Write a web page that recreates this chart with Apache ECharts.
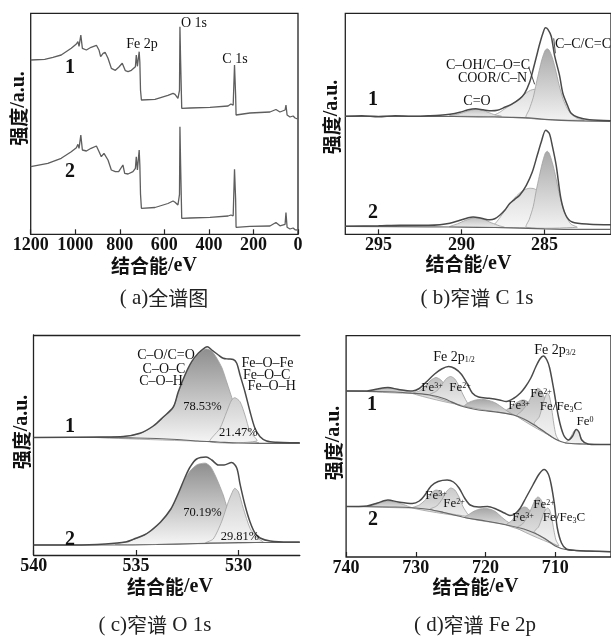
<!DOCTYPE html>
<html><head><meta charset="utf-8">
<script src="https://cdn.jsdelivr.net/npm/echarts@6/dist/echarts.min.js"></script>
<style>html,body{margin:0;padding:0;background:#fff}#c{width:611px;height:636px}</style>
</head><body><div id="c"></div>
<script>
// ---------- tick labels ----------
const ticksA = [0, 200, 400, 600, 800, 1000, 1200];
const ticksB = [285, 290, 295];
const ticksC = [530, 535, 540];
const ticksD = [710, 720, 730, 740];

// ---------- (a) survey spectra [binding energy eV, intensity a.u.] ----------
const surveyA1 = [[1200,174.3],[1137,175],[1100,177],[1063,179.3],[1018,186],[995,190.3],[988,192.6],[983,188],[975,199.3],[968,186],[950,184.3],[929,187],[905,189],[893,184],[886,177.6],[875,181],[866,182],[853,176],[838,166],[820,164],[805,167],[789,171],[783,172],[775,163.6],[763,162.6],[748,164],[730,167.6],[726,179.3],[721,168],[718,169],[713,182.6],[710,172],[707,144],[703,134.3],[696,134.3],[642,135],[584,139],[561,141],[552,140],[539,136],[532,144],[530,207.6],[527,174],[522,126],[484,126.3],[395,127],[314,128.3],[301,130.3],[291,129],[285,169.3],[280,139],[278,119.3],[216,121.3],[126,122.3],[99,124.8],[81,122.3],[58,124.3],[54,129.3],[49,119.3],[36,117.3],[22,118.3],[13,116.3],[2,115.3]];
const surveyA2 = [[1200,67.6],[1123,71],[1063,76],[1018,82.6],[995,86.6],[988,90],[983,86],[975,99.3],[968,84.3],[950,83.3],[929,86],[905,88.3],[893,82.6],[883,77.6],[871,81],[853,74.3],[838,64.3],[820,62.6],[805,62.6],[786,69.3],[778,61],[763,60.3],[741,62.6],[730,66],[726,77.6],[721,64.3],[713,84.3],[710,69.3],[707,40],[703,26],[696,26],[642,26.8],[584,30.8],[561,33.3],[552,32],[539,29.3],[532,40],[530,107.6],[527,70],[522,16],[484,16.3],[395,17],[314,18.3],[301,19.3],[291,18.5],[285,65],[280,35],[278,7],[216,8],[126,8.3],[99,11.8],[81,8.5],[58,10],[54,21.8],[49,7],[36,5.3],[22,6.3],[13,4.5],[2,4.3]];

// ---------- (b) C 1s ----------
const envB1 = [[297,118],[296,118.5],[295,117.5],[294,118.5],[293,118],[292,118.5],[291.3,119],[290.7,120],[290.1,122],[289.6,124.5],[289.15,125.5],[288.7,124.5],[288.2,123.5],[287.85,124],[287.4,127],[287.0,130],[286.5,135.5],[286.2,141],[285.9,152],[285.7,164],[285.5,177],[285.3,190],[285.1,201],[284.95,206.5],[284.8,205],[284.6,198],[284.4,179],[284.1,159],[283.9,141],[283.6,128],[283.4,121],[283.0,117],[282.3,114.5],[281,113.5]];
const bgB1 = [[297,118],[292,118],[289,117.5],[287,117],[286,116.5],[285,115],[284,114],[283,113.5],[281,113]];
const ccB1 = [[286.1,116.5],[285.92,125],[285.68,137],[285.5,151],[285.32,164],[285.14,176],[284.96,184],[284.84,185.5],[284.72,184],[284.54,177],[284.36,166],[284.12,149],[283.88,135],[283.64,126],[283.4,120.5],[283.04,116],[282.62,114]];
const cohB1 = [[288.3,118],[288.0,119.5],[287.7,122],[287.4,125.5],[287.0,129.5],[286.7,133],[286.4,137.5],[286.1,141.5],[285.85,144],[285.6,145],[285.3,143],[285.0,139],[284.7,133],[284.4,127],[284.1,121.5],[283.8,118],[283.5,115.5],[283.2,114]];
const coB1 = [[290.72,118.5],[290.24,120],[289.76,122.5],[289.45,124],[289.1,125],[288.75,124],[288.4,122],[288.0,119.5],[287.6,118]];
const envB2 = [[297,8],[295,8.5],[293.7,9],[292,9],[291.3,9.5],[290.7,11],[290.1,14],[289.6,16.5],[289.3,17.3],[288.8,16],[288.3,14.5],[288.0,15.5],[287.7,19],[287.4,24],[287.1,30.7],[286.8,35],[286.5,39],[286.1,49],[285.74,62.3],[285.44,79],[285.2,92.3],[284.93,104],[284.72,101],[284.54,89],[284.3,69],[284.02,36],[283.72,19],[283.34,12.3],[282.3,10],[281,9.5]];
const bgB2 = [[297,8],[292,7.5],[289,7],[287,6.5],[285,5.5],[283,5],[281,5]];
const ccB2 = [[286.1,7],[285.92,15],[285.68,28],[285.5,44],[285.32,58],[285.14,71],[284.96,81],[284.84,83],[284.72,81],[284.54,72],[284.36,60],[284.12,41],[283.88,26],[283.64,16],[283.4,10],[283.04,7]];
const cohB2 = [[288.32,7],[288.02,10],[287.72,16],[287.42,23],[287.12,30],[286.82,36],[286.52,41],[286.22,44.5],[285.92,46],[285.62,45.5],[285.32,42],[285.02,36],[284.72,29],[284.42,22],[284.12,16],[283.82,11.5],[283.52,8.5],[283.22,7]];
const coB2 = [[290.72,7.5],[290.24,10.5],[289.76,14],[289.22,16.5],[288.68,15],[288.2,11.5],[287.72,8.5],[287.42,7]];

// ---------- (c) O 1s ----------
const envC1 = [[540,117.5],[536.76,118],[535.62,118.5],[534.81,121.7],[534.16,129],[533.67,138],[533.18,148],[532.94,163],[532.61,180],[532.28,193.3],[531.96,201.7],[531.63,207.3],[531.52,208.3],[531.3,205],[530.98,200],[530.74,196.7],[530.49,196],[530.25,195.5],[530.08,191.7],[529.92,180],[529.68,163.3],[529.43,143.3],[529.19,126.7],[528.94,118.3],[528.62,114],[528.13,112.7],[527.48,112.3],[527,112.3]];
const bgC1 = [[540,117.5],[536.8,117.5],[535,117],[534,116.5],[533,115.5],[532,114],[531,113],[530,112],[529,111.7],[527,111.7]];
const coC1 = [[537,117.5],[536,118],[535.6,118.5],[534.8,121.5],[534.16,128.5],[533.67,137.5],[533.18,147.5],[532.94,162],[532.61,179],[532.28,192],[531.96,200.5],[531.7,205],[531.55,206],[531.3,204],[531.06,197],[530.8,187],[530.57,173],[530.25,153],[529.92,133],[529.6,120],[529.27,114],[529,112]];
const feoC1 = [[531.38,113.3],[530.9,126.7],[530.57,143.3],[530.33,155],[530.17,157.3],[529.92,153.3],[529.68,140],[529.43,123.3],[529.1,114]];
const envC2 = [[540,10],[538,10],[536.5,11],[535.5,13],[535.1,16],[534.6,20],[534.3,24],[533.8,33],[533.3,46],[532.95,61],[532.6,78],[532.36,88],[532.04,96],[531.58,98],[531.3,95],[530.98,90],[530.7,90],[530.33,92.5],[530.08,87],[529.92,71],[529.68,50],[529.43,33],[529.19,22],[528.94,17],[528.45,14],[527.5,13],[527,13]];
const bgC2 = [[540,10],[536,10],[534,10.5],[532,11.5],[530,12.5],[528,12.5],[527,12.5]];
const coC2 = [[536,10.5],[535.1,15.5],[534.3,23.5],[533.8,32.5],[533.3,45.5],[532.95,60],[532.6,76],[532.36,84],[532.04,90],[531.8,91.5],[531.58,91.7],[531.35,88],[531.14,80],[530.95,71],[530.74,60],[530.55,47],[530.33,33],[530.1,24],[529.92,19],[529.6,14],[529.3,12.5]];
const feoC2 = [[531.6,12],[531.23,16],[530.82,33.3],[530.49,53.3],[530.25,65],[530.17,66.7],[530.0,63.3],[529.76,46.7],[529.43,26.7],[529.1,17.3],[528.8,13]];

// ---------- (d) Fe 2p ----------
const envD1 = [[740,166],[737,166],[735.5,168],[734,169.5],[732.5,167.5],[730.5,166],[729.5,168.5],[728.5,175],[727.3,183],[726.3,188],[725.3,190.5],[724.4,188.5],[723.5,183],[722.6,173],[721.9,164],[721,160],[719.5,158.7],[718,157],[717,155.5],[716,158.5],[715,164],[714.3,170],[713.5,179],[712.8,190],[712.2,198],[711.7,201],[711.2,197],[710.8,189],[710.2,167],[709.5,139],[708.8,122],[708.1,117],[707.5,121],[707,127.5],[706.6,125],[706.2,117],[705.3,113],[704,112.5],[702,112.5]];
const bgD1 = [[740,166],[733,165],[730,163.5],[728,162],[726,158.5],[723.5,151],[721,147],[718.5,145],[716,142],[714.5,138],[713,132],[711.5,125],[710,118],[708.5,114],[706,113],[702,112.5]];
const satD1a = [[737,165.5],[736,166.5],[735,168],[734,169],[733,168.5],[732,167],[731,165],[730.5,163.5]];
const fe3D1a = [[730.5,163.5],[729.5,166],[728.5,172],[727.8,177],[727.1,179.5],[726.4,177],[725.7,171],[725,164],[724.2,158],[723.5,152]];
const fe2D1a = [[728,162],[727,166],[726.2,173],[725.6,178.5],[725,180.5],[724.4,178],[723.8,171],[723.2,162],[722.5,153],[722,149]];
const satD1b = [[723,151],[722.4,154.5],[721.7,156.5],[721,157.5],[720.2,157.5],[719.5,156.5],[718.7,154.5],[718,151.5],[717.3,148],[716.6,145],[716,142.5]];
const fe3D1b = [[717,146.5],[716.3,150],[715.6,154],[715,156.5],[714.5,157],[714,155.5],[713.4,150],[712.8,142],[712.2,135],[711.6,128]];
const fe2D1b = [[715.5,141],[714.8,146],[714,153],[713.3,162],[712.8,167],[712.5,168.7],[712.1,167],[711.6,160],[711.1,148],[710.6,134],[710.1,122],[709.6,117]];
const fecD1 = [[713,133],[712.3,140],[711.8,152],[711.4,161],[711.1,164],[710.8,160],[710.5,148],[710.2,133],[709.9,122],[709.5,116]];
const fe0D1 = [[708.6,114],[708.2,116],[707.7,121],[707.3,126],[707,127.7],[706.7,126],[706.4,121],[706,115.5],[705.6,113]];
const envD2 = [[740,50.5],[737,51],[735.5,54],[734,57],[732.5,55],[730.5,53.5],[729.5,56],[728.7,62],[727.8,71],[726.8,75.5],[725.5,77],[724.6,75],[723.8,69],[723,59],[722.2,52],[721,50],[719.7,50.5],[718.5,48],[717.3,44],[716.5,41.5],[715.8,43],[715,49],[714.3,58],[713.2,72],[712.3,83],[711.6,87.5],[711,83],[710.6,73],[710.1,52],[709.7,29],[709.1,14],[708.4,8],[707,6.5],[705,6],[702,5.3]];
const bgD2 = [[740,50.5],[733,50],[730,49],[728,47.5],[726,44.5],[723,39.5],[720,36],[717,32],[714.5,28],[713,24],[711.5,18.5],[710,11],[708.5,7.5],[706,6],[702,5.3]];
const satD2a = [[737,50.5],[736,52],[735,54.5],[734,56],[733,55],[732,53],[731,50.5],[730.5,49]];
const fe3D2a = [[730.5,49],[729.5,52],[728.5,58],[727.8,64],[727.1,67],[726.4,65],[725.7,59],[725,52],[724.2,45.5],[723.5,41]];
const fe2D2a = [[728,47.5],[727,51],[726.2,58],[725.6,65.5],[725,69],[724.4,67],[723.8,60],[723.2,50],[722.5,42.5],[722,40]];
const satD2b = [[723,39.5],[722.3,43],[721.6,46],[720.8,48],[720,48.5],[719.2,47.5],[718.5,45],[717.7,40],[717,36],[716.3,33],[715.6,31]];
const fe3D2b = [[717,32],[716.3,36],[715.6,42],[715,47.5],[714.5,50],[714,49],[713.4,44],[712.8,37],[712.2,30],[711.6,24],[711,20]];
const fe2D2b = [[715.5,29],[714.7,33],[714,40],[713.4,49],[712.9,57],[712.5,60],[712.1,58],[711.6,51],[711.1,40],[710.6,27],[710.1,16],[709.6,11]];
const fecD2 = [[713,25],[712.4,30],[711.9,39],[711.5,46],[711.1,49],[710.8,47],[710.5,39],[710.2,27],[709.9,17],[709.5,11]];

// ---------- annotation leader lines (panel b) [eV, a.u.] ----------
const leaderB = [[[285.95,167],[285.6,150]], [[284.45,196],[284.35,181]]];

// ---------- layout ----------
const SERIF = '"Liberation Serif", "Times New Roman", serif';
const CJK = '"Noto Sans CJK SC", sans-serif';
const grids = [
  {left:30.7, top:13.3, width:267.3, height:221, show:true},
  {left:345.3, top:13.3, width:266.7, height:221, show:true},
  {left:33.7, top:335, width:266.1, height:220, show:false},
  {left:346.1, top:335.7, width:266.8, height:221.3, show:true}
];
const xr = [[0,1200,ticksA],[281,297,ticksB],[527,540,ticksC],[702,740,ticksD]];

const chart = echarts.init(document.getElementById('c'), null, {renderer:'canvas'});

function line(gi, data, color, width, z, smooth) {
  return {type:'line', xAxisIndex:gi, yAxisIndex:gi, data, symbol:'none', showSymbol:false,
    smooth: smooth === undefined ? 0.3 : smooth, lineStyle:{color, width}, z, silent:true};
}
function comp(gi, pts, top, bot) {
  return {type:'custom', xAxisIndex:gi, yAxisIndex:gi, data:pts, z:1, silent:true, clip:true,
    renderItem:function(params, api){
      if (params.dataIndex !== 0) return null;
      const p = pts.map(d => api.coord(d));
      return {type:'polygon', shape:{points:p, smooth:0.25},
        style:{fill:new echarts.graphic.LinearGradient(0,0,0,1,[{offset:0,color:top},{offset:1,color:bot}]),
          stroke:'#a0a0a0', lineWidth:0.8}};
    }};
}
function T(x, y, text, size, extra) {
  return Object.assign({type:'text', x, y, z:100, silent:true,
    style:Object.assign({text, fontFamily:SERIF, fontSize:size||14, fill:'#111',
      align:'center', verticalAlign:'middle', textAlign:'center', textVerticalAlign:'middle'}, extra||{})});
}
const supRich = {sup:{fontSize:8, fontFamily:SERIF, verticalAlign:'top', padding:[0,0,5,0]},
                 sub:{fontSize:8, fontFamily:SERIF, verticalAlign:'bottom', padding:[5,0,0,0]}};
function R(x, y, text, size) { return T(x, y, text, size||14, {rich:supRich}); }

const axisNameRich = {c:{fontFamily:CJK, fontWeight:'bold', fontSize:19, fill:'#111'},
                      l:{fontFamily:SERIF, fontWeight:'bold', fontSize:20, fill:'#111'}};
function xName(x, y) { return T(x, y, '{c|结合能}{l|/eV}', 19, {rich:axisNameRich}); }
function yName(x, y) { const t = T(x, y, '{c|强度}{l|/a.u.}', 19, {rich:axisNameRich}); t.rotation = Math.PI/2; return t; }
const capRich = {c:{fontFamily:CJK, fontSize:20, fill:'#222'}, l:{fontFamily:SERIF, fontSize:21, fill:'#222'}};
function cap(x, y, a, b, c) { return T(x, y, '{l|( ' + a + ')}{c|' + b + '}' + (c ? '{l| ' + c + '}' : ''), 20, {rich:capRich}); }

const xAxes = xr.map((r, i) => ({type:'value', gridIndex:i, min:r[0], max:r[1], inverse:true,
    axisLine:{show:i === 2, lineStyle:{color:'#222', width:1.3}}, splitLine:{show:false},
    axisTick:{show:true, inside:true, length:5, lineStyle:{color:'#222', width:1.2}, customValues:r[2]},
    axisLabel:{show:true, customValues:r[2], formatter:v => String(v), fontFamily:SERIF, fontSize:18, fontWeight:'bold', color:'#111', margin:2}}));
xAxes.push({type:'value', gridIndex:2, min:527, max:540, inverse:true, position:'top',
    axisLine:{show:true, lineStyle:{color:'#222', width:1.3}}, axisTick:{show:false}, axisLabel:{show:false}, splitLine:{show:false}});
const yAxes = grids.map((g, i) => ({type:'value', gridIndex:i, min:0, max:g.height, show:i === 2,
    axisLine:{show:true, lineStyle:{color:'#222', width:1.3}}, axisTick:{show:false}, axisLabel:{show:false}, splitLine:{show:false}}));

const option = {
  animation:false,
  backgroundColor:'#fff',
  grid: grids.map(g => Object.assign({borderColor:'#222', borderWidth:1.3, backgroundColor:'transparent'}, g)),
  xAxis: xAxes,
  yAxis: yAxes,
  series: [
    line(0, surveyA1, '#5e5e5e', 1.3, 5, false),
    line(0, surveyA2, '#5e5e5e', 1.3, 5, false),

    comp(1, cohB1, '#dcdcdc', '#f7f7f7'), comp(1, ccB1, '#a9a9a9', '#f2f2f2'), comp(1, coB1, '#bdbdbd', '#eeeeee'),
    comp(1, cohB2, '#dcdcdc', '#f7f7f7'), comp(1, ccB2, '#a9a9a9', '#f2f2f2'), comp(1, coB2, '#bdbdbd', '#eeeeee'),
    line(1, bgB1, '#666', 1.2, 4), line(1, envB1, '#4a4a4a', 1.5, 5),
    line(1, bgB2, '#666', 1.2, 4), line(1, envB2, '#4a4a4a', 1.5, 5),
    line(1, leaderB[0], '#333', 0.9, 6, false), line(1, leaderB[1], '#333', 0.9, 6, false),

    comp(2, coC1, '#8e8e8e', '#f6f6f6'), comp(2, feoC1, '#cfcfcf', '#f6f6f6'),
    comp(2, coC2, '#8e8e8e', '#f6f6f6'), comp(2, feoC2, '#cfcfcf', '#f6f6f6'),
    line(2, bgC1, '#666', 1.2, 4), line(2, envC1, '#4a4a4a', 1.5, 5),
    line(2, bgC2, '#666', 1.2, 4), line(2, envC2, '#4a4a4a', 1.5, 5),

    comp(3, satD1a, '#b5b5b5', '#e6e6e6'), comp(3, fe3D1a, '#bdbdbd', '#ececec'), comp(3, fe2D1a, '#c9c9c9', '#efefef'),
    comp(3, satD1b, '#a5a5a5', '#e2e2e2'), comp(3, fe3D1b, '#b0b0b0', '#e8e8e8'), comp(3, fe2D1b, '#b9b9b9', '#ececec'),
    comp(3, fecD1, '#dadada', '#f4f4f4'), comp(3, fe0D1, '#dedede', '#f4f4f4'),
    comp(3, satD2a, '#b5b5b5', '#e6e6e6'), comp(3, fe3D2a, '#bdbdbd', '#ececec'), comp(3, fe2D2a, '#c9c9c9', '#efefef'),
    comp(3, satD2b, '#a5a5a5', '#e2e2e2'), comp(3, fe3D2b, '#b0b0b0', '#e8e8e8'), comp(3, fe2D2b, '#b9b9b9', '#ececec'),
    comp(3, fecD2, '#dadada', '#f4f4f4'),
    line(3, bgD1, '#666', 1.2, 4), line(3, envD1, '#4a4a4a', 1.5, 5),
    line(3, bgD2, '#666', 1.2, 4), line(3, envD2, '#4a4a4a', 1.5, 5)
  ],
  graphic: [
    xName(154, 266), xName(468.5, 264), xName(170, 587), xName(475.5, 587),
    yName(19, 108.5), yName(332, 117), yName(21.7, 432), yName(333.5, 443),
    cap(164, 298, 'a', '全谱图'), cap(477, 298, 'b', '窄谱', 'C 1s'),
    cap(155, 625, 'c', '窄谱', 'O 1s'), cap(475, 625, 'd', '窄谱', 'Fe 2p'),
    T(142, 44, 'Fe 2p', 14), T(194, 23, 'O 1s', 14), T(235, 59, 'C 1s', 14),
    T(70, 68, '1', 20, {fontWeight:'bold'}), T(70, 172, '2', 20, {fontWeight:'bold'}),
    T(583, 44, 'C–C/C=C', 14), T(488, 65, 'C–OH/C–O=C', 14), T(492.5, 78, 'COOR/C–N', 14), T(477, 101.5, 'C=O', 14),
    T(373, 100, '1', 20, {fontWeight:'bold'}), T(373, 212.7, '2', 20, {fontWeight:'bold'}),
    T(166, 355, 'C–O/C=O', 14), T(164, 369.5, 'C–O–C', 14), T(161, 381.7, 'C–O–H', 14),
    T(267.5, 363, 'Fe–O–Fe', 14), T(266.7, 375, 'Fe–O–C', 14), T(271.7, 386.7, 'Fe–O–H', 14),
    T(202.5, 407, '78.53%', 12.5), T(238.3, 432.5, '21.47%', 12.5), T(202.5, 513, '70.19%', 12.5), T(240, 537, '29.81%', 12.5),
    T(70, 426.7, '1', 20, {fontWeight:'bold'}), T(70, 540, '2', 20, {fontWeight:'bold'}),
    R(454, 357, 'Fe 2p{sub|1/2}'), R(555, 350, 'Fe 2p{sub|3/2}'),
    R(432, 388, 'Fe{sup|3+}', 13), R(460, 388, 'Fe{sup|2+}', 13),
    R(541, 394, 'Fe{sup|2+}', 13), R(519, 406, 'Fe{sup|3+}', 13), R(561, 407, 'Fe/Fe{sub|3}C', 13), R(585, 422, 'Fe{sup|0}', 13),
    R(436, 496, 'Fe{sup|3+}', 13), R(454, 504, 'Fe{sup|2+}', 13),
    R(523, 518, 'Fe{sup|3+}', 13), R(544, 505, 'Fe{sup|2+}', 13), R(564, 518, 'Fe/Fe{sub|3}C', 13),
    T(372, 405, '1', 20, {fontWeight:'bold'}), T(373, 520, '2', 20, {fontWeight:'bold'})
  ]
};
chart.setOption(option);
</script></body></html>
